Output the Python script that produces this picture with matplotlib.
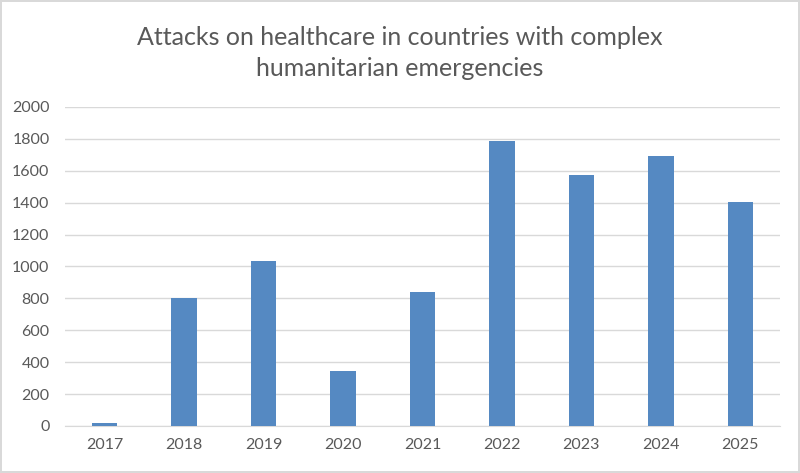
import matplotlib
matplotlib.use("Agg")
import matplotlib.pyplot as plt

years = ['2017', '2018', '2019', '2020', '2021', '2022', '2023', '2024', '2025']
attacks = [19, 802, 1034, 345, 840, 1787, 1574, 1693, 1404]

plt.rcParams['font.family'] = ['Lato', 'DejaVu Sans']

fig = plt.figure(figsize=(8, 4.73), dpi=100)
fig.patch.set_edgecolor('#d9d9d9')
fig.patch.set_linewidth(1.5)
ax = fig.add_axes([0.081, 0.0994, 0.894, 0.6746])

ax.bar(range(len(years)), attacks, width=0.32, color='#5589C2', zorder=3)
ax.set_xlim(-0.5, len(years) - 0.5)
ax.set_ylim(0, 2000)
ax.set_yticks(range(0, 2001, 200))
ax.set_xticks(range(len(years)))
ax.set_xticklabels(years)
ax.grid(axis='y', color='#d9d9d9', linewidth=1, zorder=0)
for s in ['top', 'right', 'left']:
    ax.spines[s].set_visible(False)
ax.spines['bottom'].set_color('#d9d9d9')
ax.tick_params(axis='both', length=0, labelsize=11.5, colors='#595959', pad=9)
ax.tick_params(axis='y', pad=11)

fig.text(0.5, 0.888, 'Attacks on healthcare in countries with complex\nhumanitarian emergencies',
         ha='center', va='center', fontsize=18, color='#595959', linespacing=1.45)

fig.savefig('out.png', dpi=100, edgecolor=fig.get_edgecolor())
